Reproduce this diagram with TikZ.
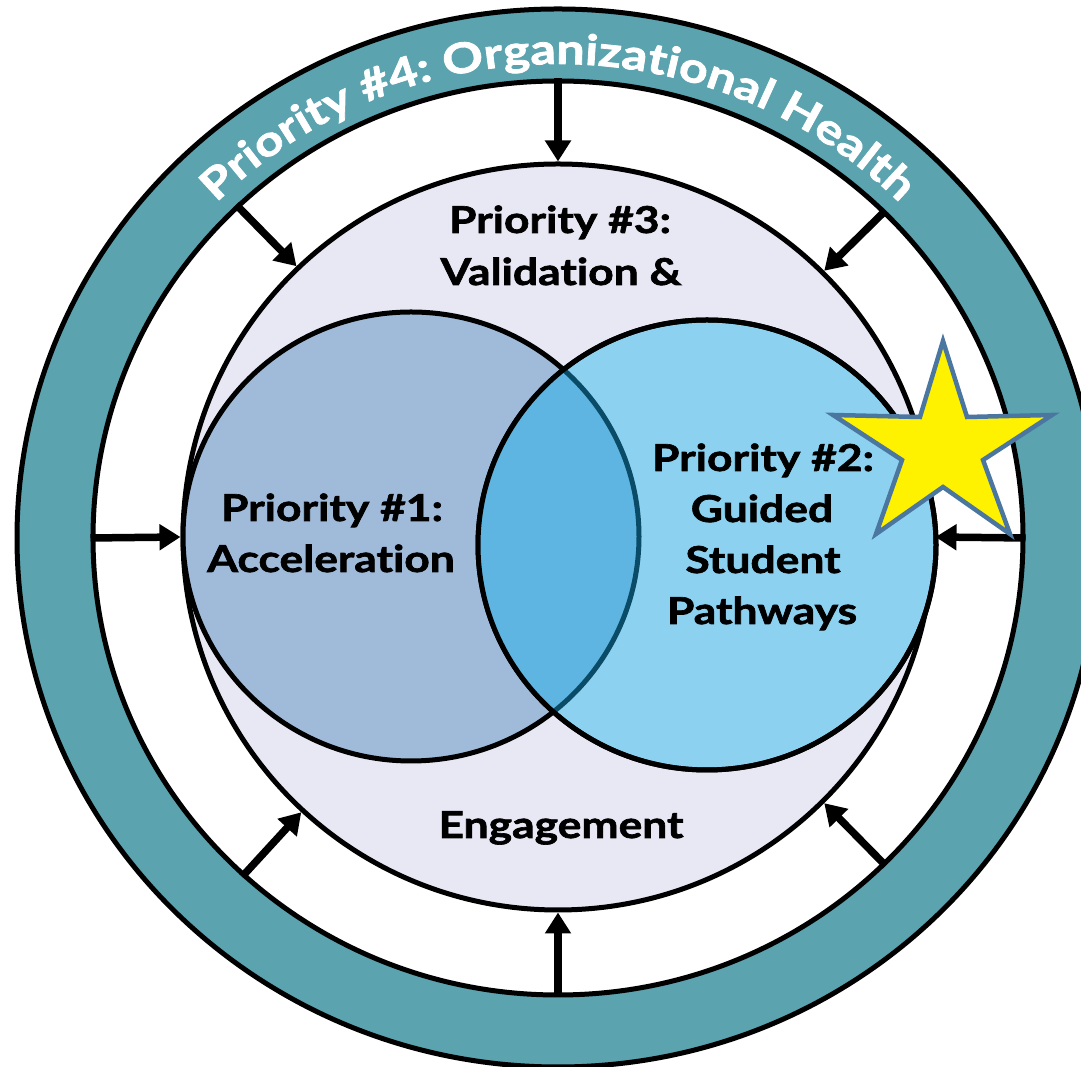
\documentclass[tikz,border=0pt]{standalone}
\usepackage{fontspec}
\setmainfont{Lato}[Ligatures=NoCommon, BoldFeatures={FakeStretch=1.2, FakeBold=1.8}]
\usetikzlibrary{shapes.geometric,arrows.meta,decorations.text}
\definecolor{ringteal}{HTML}{5BA3AF}
\definecolor{lav}{HTML}{E8E8F5}
\definecolor{leftblue}{HTML}{A0BBD9}
\definecolor{rightblue}{HTML}{8CD2F0}
\definecolor{lens}{HTML}{5FB5E1}
\definecolor{lensline}{HTML}{0A4C68}
\definecolor{starline}{HTML}{4A76A0}
\begin{document}
\begin{tikzpicture}[x=1pt,y=1pt,
  disc/.style={ellipse, draw=black, line width=5pt, inner sep=0pt},
  arr/.style={line width=7.5pt, -{Triangle[length=21pt,width=25pt]}},
  lbl/.style={font=\bfseries\fontsize{37}{44}\selectfont, inner sep=0pt, anchor=base}]
\useasboundingbox (0,0) rectangle (1081,1067);
\clip (0,0) rectangle (1081,1067);
% outer ring
\node[disc, fill=ringteal, minimum width=1082pt, minimum height=1058pt] (ringout) at (558,529) {};
\node[disc, fill=white, minimum width=930pt, minimum height=914pt] (ringin) at (558,529) {};
\path[postaction={decorate}, decoration={text along path, text align=center,
  text={|\bfseries\fontsize{42}{42}\selectfont\color{white}|Priority {\#}4: Organizational Health}}]
  (75,529) arc[start angle=180, end angle=0, x radius=483, y radius=474];
% lavender
\node[disc, fill=lav, minimum width=750pt, minimum height=746pt] (lav) at (558,530) {};
% venn circles
\node[disc, fill=leftblue, minimum width=456pt, minimum height=449pt] (c1) at (411,530.5) {};
\node[disc, fill=rightblue, minimum width=458pt, minimum height=450pt] (c2) at (707,522) {};
\begin{scope}
  \clip (707,522) ellipse [x radius=229, y radius=225];
  \fill[lens] (411,530.5) ellipse [x radius=228, y radius=224.5];
  \draw[lensline, line width=5pt] (411,530.5) ellipse [x radius=228, y radius=224.5];
\end{scope}
\draw[line width=5pt] (707,522) ellipse [x radius=229, y radius=225];
% arrows
\foreach \a in {0,45,90,134,180,227,270,315}
  \draw[arr] (ringin.\a) -- (lav.\a);
% labels
\node[lbl] (p3a) at (560,834) {Priority \#3:};
\node[lbl] (p3b) at (561,782) {Validation \&};
\node[lbl] (p3c) at (561,229) {Engagement};
\node[lbl] (p1a) at (332,546) {Priority \#1:};
\node[lbl] (p1b) at (331,495) {Acceleration};
\node[lbl] (p2a) at (763,596) {Priority \#2:};
\node[lbl] (p2b) at (762,545) {Guided};
\node[lbl] (p2c) at (763,494) {Student};
\node[lbl] (p2d) at (762,443) {Pathways};
% star
\draw[starline, line width=4.5pt, fill=yellow, line join=miter]
  (943,726) -- (967,650) -- (1052,652) -- (983,607) -- (1010,533)
  -- (943,580) -- (876,533) -- (902,607) -- (833,652) -- (920,650) -- cycle;
\end{tikzpicture}
\end{document}
